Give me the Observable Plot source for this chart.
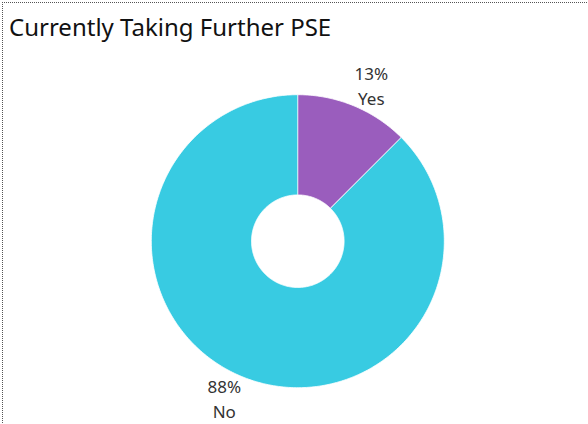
<!DOCTYPE html>
<html>
<head>
<meta charset="utf-8">
<script src="https://cdn.jsdelivr.net/npm/d3@7"></script>
<script src="https://cdn.jsdelivr.net/npm/@observablehq/plot@0.6"></script>
<style>
  html, body { margin: 0; padding: 0; background: #fff; }
  body { width: 588px; height: 424px; position: relative; overflow: hidden; font-family: "Noto Sans", sans-serif; }
  #frame { position: absolute; left: 2px; top: 2px; width: 620px; height: 440px; border-top: 1px dotted #555; border-left: 1px dotted #555; pointer-events: none; }
  #title { height: 50px; box-sizing: border-box; padding: 12px 0 0 9px; font-size: 24px; line-height: 30px; color: #111; white-space: nowrap; }
  #chart svg { display: block; }
</style>
</head>
<body>
<div id="frame"></div>
<div id="title">Currently Taking Further PSE</div>
<div id="chart"></div>
<script>
const categories = ["Yes", "No"];
const shares = [12.5, 87.5];
const colors = ["#9a5dbd", "#38cbe2"];

const W = 588, H = 374;
const cx = 297.3, cy = 190.7, R = 146.5, innerRatio = 46.3 / 146.5;

const arcs = d3.pie().sort(null).value(d => d)(shares);

const pts = [];
arcs.forEach((a, i) => {
  const n = Math.max(4, Math.ceil((a.endAngle - a.startAngle) / (2 * Math.PI) * 360));
  for (let k = 0; k <= n; k++) {
    const t = a.startAngle + (a.endAngle - a.startAngle) * k / n;
    pts.push({cat: categories[i], x: Math.sin(t), y: Math.cos(t)});
  }
  for (let k = n; k >= 0; k--) {
    const t = a.startAngle + (a.endAngle - a.startAngle) * k / n;
    pts.push({cat: categories[i], x: innerRatio * Math.sin(t), y: innerRatio * Math.cos(t)});
  }
});

const labelR = 1.155;
const labels = arcs.map((a, i) => {
  const m = (a.startAngle + a.endAngle) / 2;
  return {x: labelR * Math.sin(m) + 0.06 * Math.sign(Math.sin(m)), y: labelR * Math.cos(m), text: Math.round(shares[i]) + "%\n" + categories[i]};
});

const chart = Plot.plot({
  width: W,
  height: H,
  margin: 0,
  x: {domain: [-cx / R, (W - cx) / R], axis: null},
  y: {domain: [-(H - cy) / R, cy / R], axis: null},
  color: {domain: categories, range: colors},
  style: {fontFamily: "Noto Sans, sans-serif", background: "transparent"},
  marks: [
    Plot.line(pts, {x: "x", y: "y", z: "cat", fill: "cat", stroke: "white", strokeWidth: 0.8, curve: "linear-closed"}),
    Plot.text(labels, {x: "x", y: "y", text: "text", fontSize: 17, fill: "#333", lineHeight: 1.45})
  ]
});
document.getElementById("chart").appendChild(chart);
</script>
</body>
</html>
